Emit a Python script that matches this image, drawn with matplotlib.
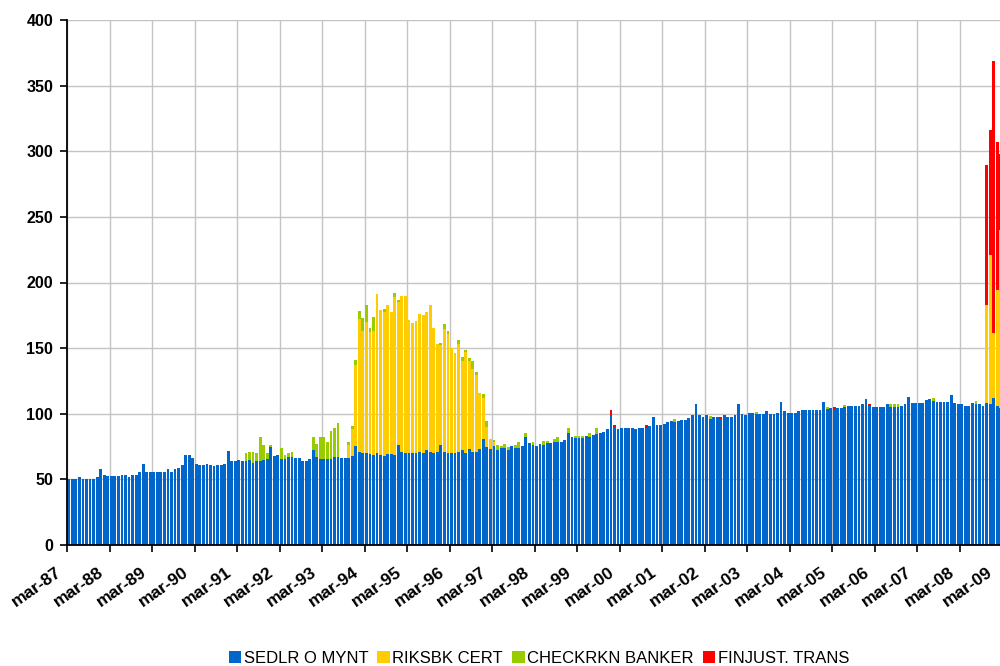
import numpy as np
import pandas as pd
import matplotlib
matplotlib.use('Agg')
import matplotlib.pyplot as plt
from matplotlib.transforms import ScaledTranslation

plt.rcParams['font.family'] = ['Liberation Sans', 'DejaVu Sans']

# monthly data, mar-87 .. feb-09
start_month = '1987-03'
n_months = 264

# SEDLR O MYNT, one row per year (mar..feb)
sedlr = [
    50, 50, 50, 51.5, 50, 50, 50, 50, 51.5, 57.6, 53, 52.3,
    52.3, 52.3, 52.3, 53, 53, 52, 53, 53, 55.3, 61.4, 56, 56,
    55.3, 55.3, 55.3, 56, 57.6, 56, 57.6, 58.4, 60.7, 68.3, 68.3, 66,
    61.4, 60.7, 60.7, 61.4, 60.7, 60, 60.7, 60.7, 61.4, 72, 63.7, 63.7,
    64.5, 63.7, 63.8, 64.8, 62.7, 63.8, 64.3, 64.8, 65.8, 74.4, 67.8, 68.6,
    65.8, 65.8, 66.8, 67.3, 66.3, 66.3, 64.3, 64.3, 65.8, 72.6, 67.3, 65.8,
    65.8, 65.8, 65.8, 67.3, 67.3, 66.3, 66.3, 66.3, 67.9, 75.6, 70.5, 69.9,
    69.9, 69, 68.6, 69.9, 68.3, 67.9, 69, 69, 68.3, 76.1, 70.5, 69.9,
    69.9, 69.9, 69.9, 71, 69.9, 72.6, 71, 69.9, 71, 76.1, 71, 69.9,
    69.9, 69.9, 71, 72.6, 69.9, 72.9, 71, 71, 72.9, 80.7, 74.8, 72.9,
    75.6, 72.6, 73.6, 73.6, 72.5, 75.1, 74.0, 74.0, 75.1, 82.2, 77.6, 76.1,
    75.1, 76.6, 76.1, 77.6, 77.6, 78.1, 78.1, 78.7, 80.3, 85.2, 82.5, 81.2,
    81.2, 81.7, 83.3, 82.4, 83.8, 84.5, 85.2, 86.1, 88.4, 98.3, 90.0, 88.3,
    89.1, 89.1, 89.1, 89.1, 88.3, 89.1, 89.1, 89.1, 90.6, 97.5, 91.4, 91.4,
    92.1, 93.9, 94.4, 93.9, 94.4, 95.2, 95.2, 96.7, 99.0, 107.4, 99.0, 97.5,
    99.0, 96.0, 97.5, 97.5, 96.0, 99.0, 97.5, 97.5, 99.0, 107.4, 99.8, 99.0,
    100.5, 100.5, 99.8, 99.8, 99.8, 102.1, 99.8, 99.8, 100.5, 108.9, 102.1, 100.5,
    100.5, 100.5, 102.1, 102.8, 102.8, 102.8, 102.8, 102.8, 102.8, 108.9, 103.6, 104.1,
    103.6, 104.3, 104.4, 105.3, 105.9, 105.9, 105.9, 105.9, 107.4, 111.2, 105.9, 105.1,
    105.1, 105.1, 105.1, 107.4, 105.3, 105.3, 105.3, 105.9, 107.4, 112.8, 108.2, 108.2,
    108.2, 108.2, 110.5, 111.2, 109.7, 108.9, 108.9, 108.9, 108.9, 114.3, 108.2, 107.4,
    107.4, 105.9, 105.9, 108.2, 107.4, 107.4, 105.9, 108.2, 107.4, 112.0, 105.9, 104.4,
]

# RIKSBK CERT, two periods
riksbk_1993 = [9.9, 20.4, 61.6, 101.8, 92.8, 99.9, 93.2, 94.8, 121, 110.4, 110, 113.5,
               108.5, 120.7, 109, 118.9, 119.5, 101.7, 99.4, 100.4, 105.2, 105.5, 105.3, 112,
               95.8, 82.2, 76.4, 93.7, 91, 80.1, 76.5, 82.2, 67.9, 77, 67.6, 63.1,
               58.8, 42.9, 31.5, 15.3, 7.8, 2.6]
riksbk_1993_start = '1993-10'
riksbk_2008 = [74.3, 113.3, 49.7, 88.1, 135.9]
riksbk_2008_start = '2008-10'

# CHECKRKN BANKER
checkrkn = {
    '1991-05': 6.5, '1991-06': 6.1, '1991-07': 8.2, '1991-08': 6.0, '1991-09': 17.7,
    '1991-10': 11.4, '1991-11': 4.0, '1991-12': 1.8, '1992-03': 8.3, '1992-04': 2.8,
    '1992-05': 3.0, '1992-06': 3.6, '1992-12': 9.4, '1993-01': 9.9, '1993-02': 16.2,
    '1993-03': 16.2, '1993-04': 12.6, '1993-05': 21.3, '1993-06': 21.6, '1993-07': 25.9,
    '1993-10': 2.6, '1993-11': 2.5, '1993-12': 3.8, '1994-01': 5.7, '1994-02': 10.2,
    '1994-03': 12.7, '1994-04': 3.0, '1994-05': 10.2, '1994-08': 1.6, '1994-11': 3.0,
    '1994-12': 1.2, '1995-12': 1.5, '1996-01': 3.6, '1996-02': 2.2, '1996-05': 3.2,
    '1996-06': 3.0, '1996-07': 1.8, '1996-08': 2.3, '1996-09': 6.2, '1996-10': 2.1,
    '1996-12': 2.6, '1997-01': 4.6, '1997-03': 2.0, '1997-04': 3.5, '1997-05': 1.5,
    '1997-06': 3.0, '1997-07': 2.1, '1997-09': 2.1, '1997-10': 4.1, '1997-12': 3.3,
    '1998-02': 2.0, '1998-05': 2.9, '1998-06': 1.4, '1998-08': 2.7, '1998-09': 4.1,
    '1998-12': 3.6, '1999-02': 2.1, '1999-03': 2.1, '1999-04': 1.6, '1999-06': 2.8,
    '1999-08': 4.3, '2001-06': 2.1, '2002-04': 2.3, '2003-05': 1.5, '2005-01': 1.8,
    '2005-06': 1.3, '2006-07': 2.3, '2006-08': 2.3, '2006-09': 2.3, '2007-07': 2.3,
    '2008-07': 2.3,
}

# FINJUST. TRANS
finjust = {
    '1999-12': 4.9, '2000-01': 1.4, '2000-10': 2.3, '2002-07': 1.5, '2005-03': 1.8,
    '2006-01': 1.5, '2008-10': 107.4, '2008-11': 95.2, '2008-12': 207.2,
    '2009-01': 112.8, '2009-02': 57.3,
}

xtick_labels = ['mar-87', 'mar-88', 'mar-89', 'mar-90', 'mar-91', 'mar-92', 'mar-93',
                'mar-94', 'mar-95', 'mar-96', 'mar-97', 'mar-98', 'mar-99', 'mar-00',
                'mar-01', 'mar-02', 'mar-03', 'mar-04', 'mar-05', 'mar-06', 'mar-07',
                'mar-08', 'mar-09']

months = [str(p) for p in pd.period_range(start_month, periods=n_months, freq='M')]
pos = {m: i for i, m in enumerate(months)}

blue = np.array(sedlr, dtype=float)
yellow = np.zeros(n_months)
i0 = pos[riksbk_1993_start]
yellow[i0:i0 + len(riksbk_1993)] = riksbk_1993
i0 = pos[riksbk_2008_start]
yellow[i0:i0 + len(riksbk_2008)] = riksbk_2008
green = np.zeros(n_months)
for m, v in checkrkn.items():
    green[pos[m]] = v
red = np.zeros(n_months)
for m, v in finjust.items():
    red[pos[m]] = v

fig = plt.figure(figsize=(10, 6.66), dpi=100)
ax = fig.add_axes([0.067, 1 - 545 / 666, 0.9355, 525 / 666])

x = np.arange(n_months)
w = 0.8
ax.bar(x, blue, w, color='#0066cc', label='SEDLR O MYNT')
ax.bar(x, yellow, w, bottom=blue, color='#ffcc00', label='RIKSBK CERT')
ax.bar(x, green, w, bottom=blue + yellow, color='#99cc00', label='CHECKRKN BANKER')
ax.bar(x, red, w, bottom=blue + yellow + green, color='#ff0000', label='FINJUST. TRANS')

ax.set_xlim(-0.5, n_months - 0.5)
ax.set_ylim(0, 400)
ax.set_yticks(np.arange(0, 401, 50))
ax.set_xticks(np.arange(0, n_months + 1, 12) - 0.5)
ax.set_xticklabels(xtick_labels, rotation=35, ha='right', fontsize=12.5, fontweight='bold')
for lab in ax.get_yticklabels():
    lab.set_fontsize(11.5)
    lab.set_fontweight('bold')

ax.grid(True, color='#c4c4c4', linewidth=1.0)
ax.set_axisbelow(True)
for s in ['top', 'right']:
    ax.spines[s].set_visible(False)
for s in ['left', 'bottom']:
    ax.spines[s].set_linewidth(1.3)
ax.tick_params(axis='both', direction='out', length=5, width=1.2, colors='black')
ax.tick_params(axis='x', pad=9)
ax.tick_params(axis='y', pad=5)

# nudge x labels left (after tick_params, which resets label transforms)
xlabels = ax.get_xticklabels()
for k, lab in enumerate(xlabels):
    dx = -3 if k < len(xlabels) - 1 else -7
    lab.set_transform(lab.get_transform() + ScaledTranslation(dx / 100, 0, fig.dpi_scale_trans))

fig.legend(loc='center', bbox_to_anchor=(0.539, 0.012), ncol=4, frameon=False,
           fontsize=12, handlelength=0.75, handleheight=0.75, handletextpad=0.15,
           columnspacing=0.55, borderpad=0)

fig.savefig('out.png', dpi=100)
